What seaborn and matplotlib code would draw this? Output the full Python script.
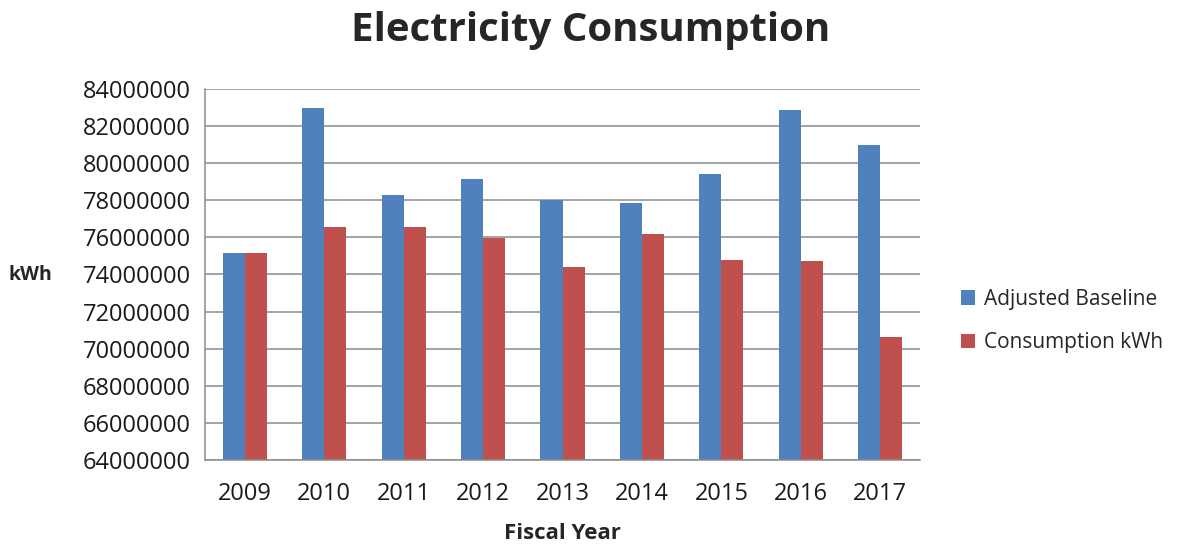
import pandas as pd
import numpy as np
import matplotlib
matplotlib.use('Agg')
import matplotlib.pyplot as plt
import seaborn as sns

# Chart values
years = ['2009', '2010', '2011', '2012', '2013', '2014', '2015', '2016', '2017']
adjusted_baseline = [75150000, 83000000, 78270000, 79170000, 78000000, 77850000, 79400000, 82850000, 80970000]
consumption_kwh = [75150000, 76540000, 76540000, 75960000, 74400000, 76200000, 74800000, 74740000, 70650000]
series_names = ['Adjusted Baseline', 'Consumption kWh']
series_colors = ['#4F81BD', '#C0504D']
y_ticks = list(range(64000000, 84000001, 2000000))

data = pd.DataFrame({
    'year': years * 2,
    'value': adjusted_baseline + consumption_kwh,
    'series': [series_names[0]] * len(years) + [series_names[1]] * len(years),
})

sns.set_style('white')
plt.rcParams['font.family'] = ['Open Sans', 'DejaVu Sans']

fig = plt.figure(figsize=(11.9, 5.46), dpi=100)
ax = fig.add_axes([205 / 1190, 86 / 546, 715 / 1190, 371 / 546])

sns.barplot(data=data, x='year', y='value', hue='series', palette=series_colors,
            width=0.555, saturation=1, linewidth=0, ax=ax, legend=True)

ax.set_ylim(y_ticks[0], y_ticks[-1])
ax.set_yticks(y_ticks)
ax.set_yticklabels([str(t) for t in y_ticks])
ax.set_xlim(-0.5, len(years) - 0.5)
ax.yaxis.grid(True, color='#8c8c8c', linewidth=1.1)
ax.set_axisbelow(True)

for side in ['top', 'right']:
    ax.spines[side].set_visible(False)
for side in ['left', 'bottom']:
    ax.spines[side].set_color('#8c8c8c')
    ax.spines[side].set_linewidth(1.1)

# Excel-style ticks: between categories on x, outward on y
ax.tick_params(axis='x', which='major', length=0, pad=16, labelsize=17, colors='#1a1a1a')
ax.set_xticks(np.arange(-0.5, len(years), 1), minor=True)
ax.tick_params(axis='x', which='minor', length=6, color='#8c8c8c', width=1.1)
ax.tick_params(axis='y', length=6, color='#8c8c8c', width=1.1, pad=4, labelsize=17, labelcolor='#1a1a1a')

ax.set_xlabel('Fiscal Year', fontsize=16, fontweight='bold', labelpad=12)
ax.set_ylabel('')
fig.text(30 / 1190, 1 - 275 / 546, 'kWh', fontsize=14, fontweight='bold', ha='center', va='center')
fig.text(591 / 1190, 1 - 31 / 546, 'Electricity Consumption', fontsize=29, fontweight='bold',
         ha='center', va='center')

ax.legend(title=None, frameon=False, loc='center left', bbox_to_anchor=(942 / 1190, 1 - 321 / 546),
          bbox_transform=fig.transFigure, fontsize=15, handlelength=0.7, handleheight=0.7,
          handletextpad=0.4, labelspacing=1.1)

fig.savefig('out.png', dpi=100)
